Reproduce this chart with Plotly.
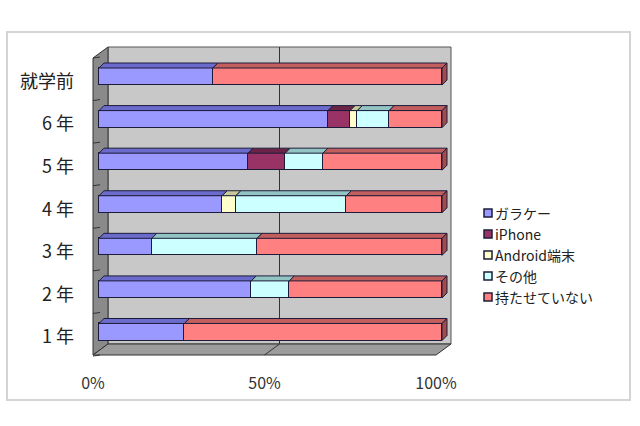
import plotly.graph_objects as go

# ---------------- data ----------------
categories = ["1 年", "2 年", "3 年", "4 年", "5 年", "6 年", "就学前"]   # bottom -> top
series_names = ["ガラケー", "iPhone", "Android端末", "その他", "持たせていない"]
garakei  = [24.9, 44.4, 15.4, 35.9, 43.5, 66.8, 33.2]
iphone   = [0.0, 0.0, 0.0, 0.0, 10.8, 6.4, 0.0]
android  = [0.0, 0.0, 0.0, 4.0, 0.0, 2.1, 0.0]
sonota   = [0.0, 11.1, 30.7, 32.2, 11.0, 9.3, 0.0]
motanai  = [75.1, 44.5, 53.9, 27.9, 34.7, 15.4, 66.8]
x_ticks = [0, 50, 100]
x_tick_labels = ["0%", "50%", "100%"]

series_values = [garakei, iphone, android, sonota, motanai]
colors = ["#9999ff", "#993366", "#ffffcc", "#ccffff", "#ff8080"]
top_colors = ["#6b6bcc", "#6b2447", "#c8c89a", "#93c4c4", "#c25e5e"]
side_color = "#a34a4a"
outline = "#1c1c3a"

# ---------------- geometry (pixels) ----------------
W, H = 640, 426
PL, PR, PT, PB = 88, 460, 44, 360          # plot area in px
X0PX, XS = 99.0, 3.43                       # bar front face: 0% px, px per %
Y0PX, YS = 332.0, 42.58                     # bar centre of first category, px per category
BAR_W = 0.4
BDX, BDY = 5.0, 5.0                          # bar depth in px
FRONT0 = 93.0                                # wall front plane 0% px
WDX, WDY = 15.0, 11.0                        # wall depth in px
FLOOR_FRONT_Y = 355.0
WALL_TOP_FRONT_Y = 58.0
LEG_X, LEG_Y0, LEG_DY = 484.0, 213.0, 21.0   # custom legend position


def dx(p):
    return (p - X0PX) / XS


def dy(p):
    return (Y0PX - p) / YS


def px(p):
    return (p - PL) / (PR - PL)


def py(p):
    return (PB - p) / (PB - PT)


fig = go.Figure()

ypos = list(range(len(categories)))
for name, vals, col in zip(series_names, series_values, colors):
    fig.add_trace(go.Bar(
        name=name, y=ypos, x=vals, orientation="h", width=BAR_W,
        marker=dict(color=col, line=dict(color=outline, width=1)),
        hoverinfo="x+name", showlegend=False,
    ))

# invisible trace for label axes
fig.add_trace(go.Scatter(x=[0], y=[0], xaxis="x2", yaxis="y2", mode="markers",
                         marker=dict(opacity=0), showlegend=False, hoverinfo="skip"))

shapes = []
annotations = []


def poly(points_px, fill, line_col="#3a3a3a", lw=1, layer="below"):
    path = "M " + " L ".join(f"{dx(a):.4f},{dy(b):.4f}" for a, b in points_px) + " Z"
    shapes.append(dict(type="path", path=path, xref="x", yref="y",
                       fillcolor=fill, line=dict(color=line_col, width=lw), layer=layer))


# walls
back_l, back_r = FRONT0 + WDX, FRONT0 + XS * 100 + WDX
front_r = FRONT0 + XS * 100
back_top = WALL_TOP_FRONT_Y - WDY
back_bot = FLOOR_FRONT_Y - WDY
poly([(back_l, back_top), (back_r, back_top), (back_r, back_bot), (back_l, back_bot)], "#c8c8c8", "#555555")
poly([(FRONT0, WALL_TOP_FRONT_Y), (back_l, back_top), (back_l, back_bot), (FRONT0, FLOOR_FRONT_Y)], "#8a8a8a", "#333333")
poly([(FRONT0, FLOOR_FRONT_Y), (back_l, back_bot), (back_r, back_bot), (front_r, FLOOR_FRONT_Y)], "#9c9c9c", "#333333")

# gridline at 50%
for t in x_ticks[1:2]:
    gx_back = back_l + XS * t
    gx_front = FRONT0 + XS * t
    shapes.append(dict(type="line", xref="x", yref="y", x0=dx(gx_back), x1=dx(gx_back),
                       y0=dy(back_top), y1=dy(back_bot), line=dict(color="#333333", width=1), layer="below"))
    shapes.append(dict(type="line", xref="x", yref="y", x0=dx(gx_back), x1=dx(gx_front),
                       y0=dy(back_bot), y1=dy(FLOOR_FRONT_Y), line=dict(color="#333333", width=1), layer="below"))

# left wall ticks
for k in range(len(categories) + 1):
    ty = WALL_TOP_FRONT_Y + YS * k
    shapes.append(dict(type="line", xref="x", yref="y", x0=dx(FRONT0), x1=dx(FRONT0 + 7),
                       y0=dy(ty), y1=dy(ty - 1), line=dict(color="#333333", width=1), layer="below"))

# 3D faces of bars
ddx, ddy = BDX / XS, BDY / YS
for i, yc in enumerate(ypos):
    base = 0.0
    ytop = yc + BAR_W / 2
    for s, vals in enumerate(series_values):
        v = vals[i]
        if v <= 0:
            continue
        x0, x1 = base, base + v
        path = (f"M {x0:.4f},{ytop:.4f} L {x1:.4f},{ytop:.4f} L {x1 + ddx:.4f},{ytop + ddy:.4f} "
                f"L {x0 + ddx:.4f},{ytop + ddy:.4f} Z")
        shapes.append(dict(type="path", path=path, xref="x", yref="y", fillcolor=top_colors[s],
                           line=dict(color=outline, width=1), layer="above"))
        base = x1
    ybot = yc - BAR_W / 2
    path = (f"M {base:.4f},{ybot:.4f} L {base:.4f},{ytop:.4f} L {base + ddx:.4f},{ytop + ddy:.4f} "
            f"L {base + ddx:.4f},{ybot + ddy:.4f} Z")
    shapes.append(dict(type="path", path=path, xref="x", yref="y", fillcolor=side_color,
                       line=dict(color=outline, width=1), layer="above"))

# outer frame
shapes.append(dict(type="rect", xref="paper", yref="paper", x0=px(7), x1=px(630), y0=py(400), y1=py(32),
                   line=dict(color="#d4d4d4", width=2), fillcolor="rgba(0,0,0,0)", layer="below"))

font_family = "Noto Sans CJK JP, Noto Sans, sans-serif"

# custom legend (small squares + labels)
for k, (name, col) in enumerate(zip(series_names, colors)):
    cy = LEG_Y0 + LEG_DY * k
    shapes.append(dict(type="rect", xref="paper", yref="paper",
                       x0=px(LEG_X), x1=px(LEG_X + 8), y0=py(cy + 4), y1=py(cy - 4),
                       fillcolor=col, line=dict(color=outline, width=1.5), layer="above"))
    annotations.append(dict(xref="paper", yref="paper", x=px(LEG_X + 9), y=py(cy),
                            xanchor="left", yanchor="middle", showarrow=False, text=name,
                            font=dict(size=14, family=font_family, color="#222222")))

fig.update_layout(
    width=W, height=H, autosize=False,
    margin=dict(l=PL, r=W - PR, t=PT, b=H - PB, pad=0),
    paper_bgcolor="white", plot_bgcolor="rgba(0,0,0,0)",
    barmode="stack", bargap=0,
    font=dict(family=font_family, color="#222222"),
    xaxis=dict(range=[dx(PL), dx(PR)], visible=False, fixedrange=True),
    yaxis=dict(range=[dy(PB), dy(PT)], visible=False, fixedrange=True),
    xaxis2=dict(range=[(PL - FRONT0) / XS, (PR - FRONT0) / XS], overlaying="x", side="bottom",
                tickvals=x_ticks, ticktext=x_tick_labels, showgrid=False, zeroline=False,
                showline=False, ticks="", ticklabelstandoff=12,
                tickfont=dict(size=16, color="#333333", family=font_family), fixedrange=True),
    yaxis2=dict(range=[(Y0PX + 5 - PB) / YS, (Y0PX + 5 - PT) / YS], overlaying="y", side="left",
                tickvals=ypos, ticktext=categories, showgrid=False, zeroline=False,
                showline=False, ticks="", ticklabelstandoff=13,
                tickfont=dict(size=18, color="#222222", family=font_family), fixedrange=True),
    shapes=shapes,
    annotations=annotations,
    showlegend=False,
)

fig.write_html("out.html")
